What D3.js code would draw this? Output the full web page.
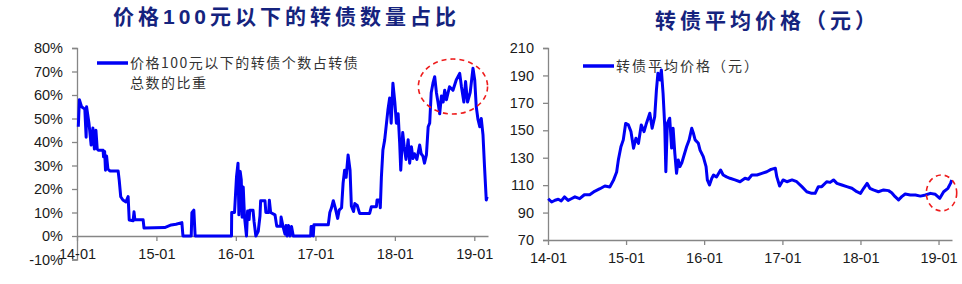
<!DOCTYPE html>
<html>
<head>
<meta charset="utf-8">
<script src="https://cdn.jsdelivr.net/npm/d3@7"></script>
<style>
  body { margin: 0; background: #fff; }
  text { font-family: "Liberation Sans", Arial, "Noto Sans CJK SC", sans-serif; }
</style>
</head>
<body>
<div id="chart"></div>
<script>
// Left chart: share of bonds priced below 100 (%)
var leftDates = ["2014-01-07","2014-01-12","2014-01-22","2014-02-06","2014-02-12","2014-02-14","2014-02-25","2014-03-07","2014-03-15","2014-03-22",
  "2014-03-29","2014-04-04","2014-04-09","2014-05-01","2014-05-03","2014-05-08","2014-05-12","2014-05-17","2014-05-23","2014-06-01",
  "2014-07-09","2014-07-14","2014-07-21","2014-07-31","2014-08-07","2014-08-14","2014-08-24","2014-08-29","2014-09-16","2014-09-20",
  "2014-09-24","2014-11-01","2014-11-05","2015-02-08","2015-03-10","2015-04-01","2015-04-28","2015-05-03","2015-06-10","2015-06-13",
  "2015-06-22","2015-06-28","2015-12-12","2015-12-13","2015-12-26","2016-01-04","2016-01-11","2016-01-15","2016-01-21","2016-01-26",
  "2016-01-30","2016-02-04","2016-02-10","2016-02-19","2016-02-24","2016-03-02","2016-03-05","2016-03-20","2016-03-25","2016-04-02",
  "2016-04-13","2016-04-21","2016-04-24","2016-05-14","2016-05-18","2016-05-31","2016-06-03","2016-06-09","2016-06-29","2016-07-07",
  "2016-07-25","2016-07-27","2016-08-05","2016-08-14","2016-08-19","2016-08-23","2016-08-30","2016-09-06","2016-09-13","2016-09-21",
  "2016-12-10","2016-12-12","2016-12-19","2016-12-22","2016-12-25","2017-03-01","2017-03-08","2017-03-15","2017-03-24","2017-04-02",
  "2017-04-13","2017-04-20","2017-05-01","2017-05-08","2017-05-15","2017-05-22","2017-05-31","2017-06-09","2017-06-15","2017-06-25",
  "2017-07-01","2017-07-12","2017-07-23","2017-09-07","2017-09-15","2017-10-08","2017-10-11","2017-10-23","2017-10-26","2017-10-31",
  "2017-11-07","2017-11-15","2017-11-30","2017-12-08","2017-12-15","2017-12-23","2018-01-01","2018-01-08","2018-01-16","2018-01-23",
  "2018-01-28","2018-02-06","2018-02-13","2018-02-21","2018-03-03","2018-03-10","2018-03-18","2018-03-25","2018-04-01","2018-04-12",
  "2018-04-25","2018-05-02","2018-05-10","2018-05-17","2018-05-26","2018-06-03","2018-06-10","2018-06-17","2018-06-25","2018-07-03",
  "2018-07-11","2018-07-18","2018-07-26","2018-08-03","2018-08-11","2018-08-18","2018-08-26","2018-09-09","2018-09-25","2018-10-10",
  "2018-10-26","2018-11-03","2018-11-14","2018-11-22","2018-12-01","2018-12-13","2018-12-26","2019-01-03","2019-01-10","2019-01-18",
  "2019-01-26","2019-02-02","2019-02-10","2019-02-17","2019-02-25","2019-03-01"];
var leftValues = [46.5,58,55,54,42,55,48,38.7,46,37,
  45,37,36.5,36.5,33.7,36,28,34,28.5,27.7,
  27.7,23.8,16.7,15.3,14.9,14.5,16.8,6.8,6.5,10.3,
  6.9,6.9,3.4,3.6,4.7,5.0,5.7,0,0,9.9,
  11,0,0,10,10,25,31,9,27.5,24,
  8,20.8,8,0,10.6,7,11,11,6,0,
  2,8.5,15,15,10,10,15.2,10,9,4.2,
  4.2,8.1,4,0.8,4.5,0,4.5,0,4,0,
  0,4,4,0,4.8,4.8,10,11.8,15,12,
  7.5,11,12,22.5,28,25,34.5,28,12.8,10.4,
  13.8,13,9.6,9.6,12.5,12.5,15.3,15.3,12,25,
  36.6,40.8,53.6,58.7,48,65,56.7,48,52,39.6,
  28,44,38,32.6,41,31,38,33,35,32.6,
  38.7,35,34,31,34.5,46.5,48,61,65,67.8,
  61,57,52,59.6,57,62,58,63.5,62,66.4,
  69.2,63.5,57,65.7,57,61,71.4,66.4,55,49.6,
  46.5,50,43,29.5,15.3,16.7];

// Right chart: average convertible bond price (yuan)
var rightDates = ["2014-01-02","2014-01-18","2014-02-03","2014-02-18","2014-03-04","2014-03-19","2014-04-05","2014-04-20","2014-05-07","2014-05-29",
  "2014-06-20","2014-07-15","2014-08-07","2014-09-01","2014-09-24","2014-10-17","2014-11-03","2014-11-18","2014-11-26","2014-12-08",
  "2014-12-19","2014-12-30","2015-01-12","2015-01-24","2015-02-05","2015-02-16","2015-02-28","2015-03-13","2015-03-26","2015-04-06",
  "2015-04-22","2015-05-03","2015-05-15","2015-05-23","2015-05-30","2015-06-08","2015-06-15","2015-06-23","2015-07-01","2015-07-06",
  "2015-07-13","2015-07-24","2015-08-02","2015-08-09","2015-08-17","2015-08-25","2015-09-02","2015-09-10","2015-09-18","2015-09-25",
  "2015-10-11","2015-10-23","2015-11-04","2015-11-12","2015-11-20","2015-12-05","2015-12-13","2015-12-28","2016-01-10","2016-01-16",
  "2016-01-26","2016-02-06","2016-02-14","2016-02-28","2016-03-18","2016-03-30","2016-04-15","2016-05-01","2016-05-24","2016-06-17",
  "2016-07-10","2016-07-26","2016-08-11","2016-09-04","2016-09-27","2016-10-20","2016-11-09","2016-11-29","2016-12-06","2016-12-19",
  "2017-01-04","2017-01-22","2017-02-15","2017-03-09","2017-04-02","2017-04-25","2017-05-18","2017-06-03","2017-06-18","2017-07-04",
  "2017-07-27","2017-08-12","2017-08-28","2017-09-13","2017-10-06","2017-10-29","2017-11-22","2017-12-15","2018-01-01","2018-01-16",
  "2018-02-01","2018-02-14","2018-03-02","2018-03-26","2018-04-19","2018-05-12","2018-05-27","2018-06-12","2018-06-28","2018-07-13",
  "2018-07-29","2018-08-22","2018-09-15","2018-10-08","2018-11-01","2018-11-24","2018-12-17","2019-01-07","2019-01-25","2019-02-14",
  "2019-02-26","2019-03-04"];
var rightValues = [100.1,97.7,99,99.7,98.5,101.4,98.9,100.1,101.5,100.1,
  103,103,105.5,107.4,109.4,108.7,113.5,119.6,128.4,138,
  143,155,153.9,149,136.9,144.2,140.5,153.9,149,155,
  162.4,151.5,160,179.4,191.6,186.7,194,177,152.6,119.8,
  155,158.8,137,151.5,133.2,118.6,128.4,123.5,126,129.6,
  138,143,151.5,147.8,143,140.5,135.6,130.8,123.5,113.8,
  110.1,115,117.4,116,121,117.4,116,115,113.8,112.5,
  115,114.3,117.4,117.4,118.6,119.8,121.5,122.3,116,109.4,
  113.8,112.5,113.8,112.5,108.9,105.2,104,104,108.9,108.9,
  112.5,112,113.8,111.3,110.1,108.9,107.7,105.2,104,107.7,
  111.3,107.7,106.5,105.2,106.5,106,104.5,101.6,99.2,101.6,
  103.5,102.8,102.8,102,102.8,104,103.3,100.4,105.2,107.7,
  111.3,113.8];

var xTickDates = ["2014-01-01","2015-01-01","2016-01-01","2017-01-01","2018-01-01","2019-01-01"];
var leftYTicks = [-10, 0, 10, 20, 30, 40, 50, 60, 70, 80];
var rightYTicks = [70, 90, 110, 130, 150, 170, 190, 210];

// highlighted ranges (dashed red ellipses)
var leftMarkDates = ["2018-04-19", "2019-03-03"];
var leftMarkValues = [51.9, 75.3];
var rightMarkDates = ["2018-11-05", "2019-03-27"];
var rightMarkValues = [91.2, 117.4];

var titleLeft = "价格100元以下的转债数量占比";
var titleRight = "转债平均价格（元）";
var legendLeft = ["价格100元以下的转债个数占转债", "总数的比重"];
var legendRight = "转债平均价格（元）";

var parseDate = d3.timeParse("%Y-%m-%d");
var fmtTick = d3.timeFormat("%y-%m");
var lineColor = "#0000f5";
var axisColor = "#868686";
var titleColor = "#15237e";

var svg = d3.select("#chart")
    .append("svg")
    .attr("width", 962)
    .attr("height", 284);

svg.append("rect").attr("width", 962).attr("height", 284).attr("fill", "#fff");

function drawPanel(opt) {
    var x = d3.scaleTime()
        .domain([parseDate("2014-01-01"), parseDate("2019-03-05")])
        .range([opt.left, opt.right]);
    var y = d3.scaleLinear()
        .domain(opt.yDomain)
        .range([opt.bottom, 48]);

    var g = svg.append("g");

    // y axis
    var yAxis = d3.axisLeft(y)
        .tickValues(opt.yTicks)
        .tickSize(5)
        .tickPadding(9)
        .tickFormat(opt.yFormat);
    var ya = g.append("g")
        .attr("transform", `translate(${opt.left},0)`)
        .call(yAxis);
    ya.select(".domain").attr("stroke", axisColor).attr("stroke-width", 1.3);
    ya.selectAll(".tick line").attr("stroke", axisColor).attr("stroke-width", 1.3);
    ya.selectAll(".tick text")
        .attr("fill", "#1a1a1a")
        .attr("font-size", "14.5px")
        .attr("font-family", "Liberation Sans, Arial, sans-serif");

    // x axis
    var xAxis = d3.axisBottom(x)
        .tickValues(xTickDates.map(parseDate))
        .tickSize(5)
        .tickSizeOuter(0)
        .tickPadding(8)
        .tickFormat(fmtTick);
    var xa = g.append("g")
        .attr("transform", `translate(0,${y(opt.xAxisAt)})`)
        .call(xAxis);
    xa.select(".domain").attr("stroke", axisColor).attr("stroke-width", 1.3);
    xa.selectAll(".tick line").attr("stroke", axisColor).attr("stroke-width", 1.3);
    xa.selectAll(".tick text")
        .attr("fill", "#1a1a1a")
        .attr("font-size", "14.5px")
        .attr("font-family", "Liberation Sans, Arial, sans-serif");

    // series line
    var data = opt.dates.map(function(d, i) {
        return { date: parseDate(d), value: opt.values[i] };
    });
    var line = d3.line()
        .x(d => x(d.date))
        .y(d => y(d.value));
    g.append("path")
        .datum(data)
        .attr("d", line)
        .attr("fill", "none")
        .attr("stroke", lineColor)
        .attr("stroke-width", 3)
        .attr("stroke-linejoin", "round");

    // dashed ellipse
    var x0 = x(parseDate(opt.markDates[0])), x1 = x(parseDate(opt.markDates[1]));
    var y0 = y(opt.markValues[0]), y1 = y(opt.markValues[1]);
    g.append("ellipse")
        .attr("cx", (x0 + x1) / 2)
        .attr("cy", (y0 + y1) / 2)
        .attr("rx", Math.abs(x1 - x0) / 2)
        .attr("ry", Math.abs(y1 - y0) / 2)
        .attr("fill", "none")
        .attr("stroke", "#ee1c1c")
        .attr("stroke-width", 1.6)
        .attr("stroke-dasharray", "5,4");

    // title
    g.append("text")
        .attr("x", opt.titleX)
        .attr("y", opt.titleY)
        .text(opt.title)
        .attr("fill", titleColor)
        .attr("font-size", "21px")
        .attr("font-weight", "bold")
        .attr("letter-spacing", "4px")
        .style("font-family", "'Liberation Sans', 'Noto Sans CJK SC', sans-serif");

    // legend
    g.append("line")
        .attr("x1", opt.legendX)
        .attr("x2", opt.legendX + 31)
        .attr("y1", opt.legendY)
        .attr("y2", opt.legendY)
        .attr("stroke", lineColor)
        .attr("stroke-width", 3.5);
    opt.legend.forEach(function(t, i) {
        g.append("text")
            .attr("x", opt.legendX + 33)
            .attr("y", opt.legendY + 5 + i * 20)
            .text(t)
            .attr("fill", "#333")
            .attr("font-size", "14px")
            .attr("letter-spacing", opt.legendSpacing)
            .style("font-family", "'Noto Sans CJK SC', sans-serif");
    });
}

drawPanel({
    left: 77, right: 488, bottom: 259.5,
    yDomain: [-10, 80], yTicks: leftYTicks, xAxisAt: 0,
    yFormat: d => d + "%",
    dates: leftDates, values: leftValues,
    markDates: leftMarkDates, markValues: leftMarkValues,
    title: titleLeft, titleX: 113, titleY: 24,
    legend: legendLeft, legendX: 97, legendY: 63, legendSpacing: "1.5px"
});

drawPanel({
    left: 548, right: 952, bottom: 240,
    yDomain: [70, 210], yTicks: rightYTicks, xAxisAt: 70,
    yFormat: d => d,
    dates: rightDates, values: rightValues,
    markDates: rightMarkDates, markValues: rightMarkValues,
    title: titleRight, titleX: 655, titleY: 28,
    legend: [legendRight], legendX: 583, legendY: 66, legendSpacing: "2px"
});
</script>
</body>
</html>
